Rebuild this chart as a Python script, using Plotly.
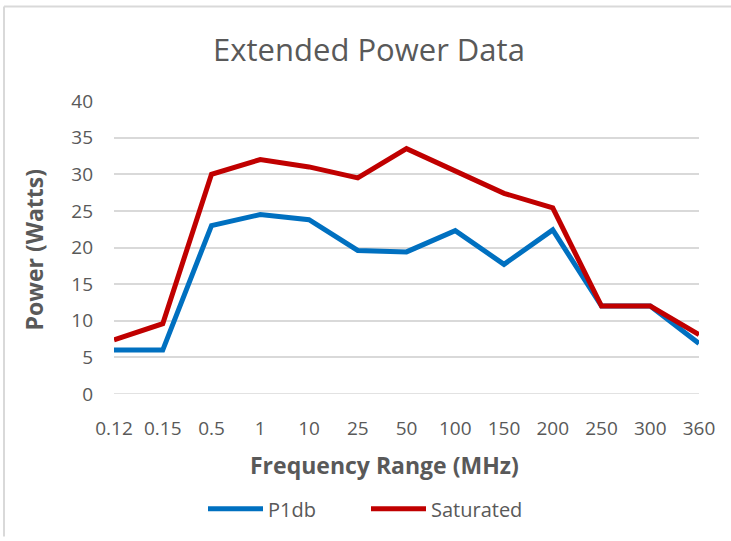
import plotly.graph_objects as go

categories = ["0.12", "0.15", "0.5", "1", "10", "25", "50", "100", "150", "200", "250", "300", "360"]
p1db = [6.0, 6.0, 23.0, 24.5, 23.8, 19.6, 19.4, 22.3, 17.7, 22.4, 12.0, 12.0, 6.9]
saturated = [7.4, 9.6, 30.0, 32.0, 31.0, 29.5, 33.5, 30.4, 27.4, 25.4, 12.0, 12.0, 8.1]
y_ticks = [0, 5, 10, 15, 20, 25, 30, 35, 40]

FONT = "Open Sans, Liberation Sans, sans-serif"
GREY = "#595959"
GRID = "#d9d9d9"

fig = go.Figure()
fig.add_trace(go.Scatter(x=categories, y=p1db, name="P1db", mode="lines",
                         line=dict(color="#0070C0", width=5)))
fig.add_trace(go.Scatter(x=categories, y=saturated, name="Saturated", mode="lines",
                         line=dict(color="#C00000", width=5)))

W, H = 731, 541
L, R, T, B = 114, 32, 101, 144
pw, ph = W - L - R, H - T - B

def px(x):
    return (x - L) / pw

def py(y):
    return (H - B - y) / ph

fig.update_layout(
    width=W, height=H,
    margin=dict(l=L, r=R, t=T, b=B),
    paper_bgcolor="white", plot_bgcolor="white",
    font=dict(family=FONT, color=GREY, size=18),
    title=dict(text="Extended Power Data", x=px(369), xref="paper", xanchor="center",
               y=1 - 50 / H, yanchor="middle", font=dict(size=31, color=GREY)),
    xaxis=dict(type="category", range=[0, len(categories) - 1], showgrid=False,
               showline=False, ticks="", ticklabelstandoff=21, tickfont=dict(size=19, color=GREY)),
    yaxis=dict(range=[0, 40], tickvals=y_ticks, showgrid=True, gridcolor=GRID, gridwidth=1.5,
               zeroline=False, showline=False, ticks="", ticklabelstandoff=20,
               tickfont=dict(size=19, color=GREY)),
    legend=dict(orientation="h", x=px(366), xanchor="center", y=py(513), yanchor="middle",
                font=dict(size=20, color=GREY), itemwidth=55, tracegroupgap=0,
                entrywidth=93, entrywidthmode="pixels"),
    showlegend=True,
)

# baseline gridline at y = 0 (range edge)
fig.add_shape(type="line", xref="paper", yref="y", x0=0, x1=1, y0=y_ticks[0], y1=y_ticks[0],
              line=dict(color=GRID, width=1.5), layer="below")

fig.add_annotation(text="<b>Frequency Range (MHz)</b>", xref="paper", yref="paper",
                   x=px(384), y=py(469), xanchor="center", yanchor="middle", showarrow=False,
                   font=dict(size=23, color=GREY))
fig.add_annotation(text="<b>Power (Watts)</b>", xref="paper", yref="paper", textangle=-90,
                   x=px(34), y=py(251), xanchor="center", yanchor="middle", showarrow=False,
                   font=dict(size=23, color=GREY))

fig.add_shape(type="line", xref="paper", yref="paper", x0=px(4), x1=px(731), y0=py(5.5), y1=py(5.5),
              line=dict(color=GRID, width=2))
fig.add_shape(type="line", xref="paper", yref="paper", x0=px(4), x1=px(4), y0=py(5.5), y1=py(541),
              line=dict(color=GRID, width=2))

fig.write_html("out.html", config={"displayModeBar": False},
               post_script="document.body.style.margin='0px';")
